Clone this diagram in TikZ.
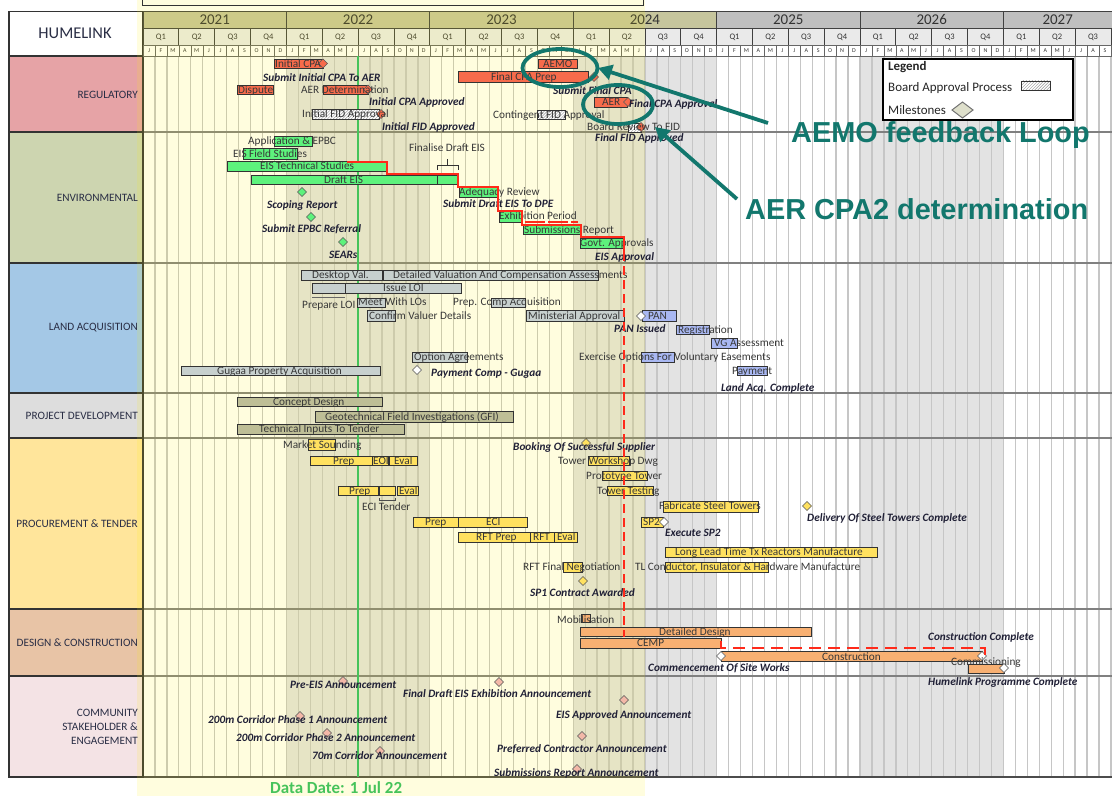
\documentclass[tikz,border=0pt]{standalone}
\usepackage{fontspec}
\setmainfont{Carlito}
\newfontfamily\annfont{Liberation Sans}
\usetikzlibrary{shapes.geometric,arrows.meta,patterns}
\definecolor{regc}{HTML}{F76B4B}
\definecolor{envc}{HTML}{5DF27C}
\definecolor{landc}{HTML}{C7D0CE}
\definecolor{landb}{HTML}{A9B8F2}
\definecolor{pdc}{HTML}{BEBE96}
\definecolor{procc}{HTML}{FFE15F}
\definecolor{desc}{HTML}{F8B072}
\definecolor{pinkc}{HTML}{F3B8A8}
\definecolor{teal2}{HTML}{12776D}
\definecolor{txt}{HTML}{383838}
\definecolor{navy}{HTML}{202036}
\definecolor{catc}{HTML}{2A2E45}
\definecolor{critc}{HTML}{FF2A1A}
\definecolor{gridc}{HTML}{C6C6C6}
\definecolor{greyyr}{HTML}{E3E3E3}
\definecolor{ddgreen}{HTML}{46C35A}
\definecolor{yrA}{HTML}{C6C59D}
\definecolor{yrB}{HTML}{BFBFBF}
\definecolor{qrow}{HTML}{EAEAEA}
\definecolor{catReg}{HTML}{E6A3A6}
\definecolor{catEnv}{HTML}{CDD5B0}
\definecolor{catLand}{HTML}{A4C8E6}
\definecolor{catPD}{HTML}{DDDDDD}
\definecolor{catProc}{HTML}{FFE59B}
\definecolor{catDes}{HTML}{E8C4A6}
\definecolor{catCom}{HTML}{F4E3E5}
\definecolor{legd}{HTML}{DEDFCB}
\tikzset{
  lbl/.style={anchor=base west, inner sep=0pt, text=txt, font=\fontsize{11.3}{12}\selectfont},
  bilbl/.style={anchor=base west, inner sep=0pt, text=navy, font=\fontsize{11.3}{12}\selectfont\bfseries\itshape},
  barl/.style={draw=black!80, line width=0.9pt},
  gridl/.style={draw=gridc, line width=1.3pt},
  hdr/.style={draw=black!75, line width=0.8pt},
  hdrthin/.style={draw=black!60, line width=0.5pt},
  sepl/.style={draw=black!50, line width=1.1pt},
  catbox/.style={draw=black!80, line width=1.2pt},
  cattxt/.style={anchor=east, inner sep=0pt, text=catc, align=right, font=\fontsize{11.3}{14}\selectfont},
  crit/.style={draw=critc, line width=1.8pt},
  annell/.style={draw=teal2, line width=3.8pt, ellipse, inner sep=0pt},
  annarrow/.style={draw=teal2, line width=3.8pt, -{Triangle[length=14bp,width=15bp]}},
  anntxt/.style={anchor=west, inner sep=0pt, text=teal2, font=\annfont\fontsize{29}{30}\selectfont\bfseries},
  legtxt/.style={anchor=west, inner sep=0pt, text=black!85, font=\fontsize{13}{14}\selectfont},
}
\newcounter{nd}
\newcommand\glbl[3]{\stepcounter{nd}\node[lbl] (n\arabic{nd}) at (#1,#2+3.8) {#3};}
\newcommand\gbi[3]{\stepcounter{nd}\node[bilbl] (n\arabic{nd}) at (#1,#2+3.8) {#3};}
\newcommand\gbar[5]{\draw[barl,fill=#5] (#1,#3) rectangle (#2,#4);}
\newcommand\hatchbar[4]{\fill[white] (#1,#3) rectangle (#2,#4);
  \fill[pattern=north east lines, pattern color=black!40] (#1,#3) rectangle (#2,#4);
  \draw[barl] (#1,#3) rectangle (#2,#4);}
\newcommand\mstone[3]{\draw[fill=#3, draw=black!65, line width=0.6pt] (#1-4.5,#2) -- (#1,#2-4.5) -- (#1+4.5,#2) -- (#1,#2+4.5) -- cycle;}
\def\mlist{J,F,M,A,M,J,J,A,S,O,N,D,J,F,M,A,M,J,J,A,S,O,N,D,J,F,M,A,M,J,J,A,S,O,N,D,J,F,M,A,M,J,J,A,S,O,N,D,J,F,M,A,M,J,J,A,S,O,N,D,J,F,M,A,M,J,J,A,S,O,N,D,J,F,M,A,M,J,J,A,S}
\begin{document}
\begin{tikzpicture}[x=1bp,y=-1bp]
\useasboundingbox (0,0) rectangle (1112,796);
\fill[white] (0,0) rectangle (1112,796);
% grey years
\fill[greyyr] (286.4,56) rectangle (429.8,777);
\fill[greyyr] (573.2,56) rectangle (716.6,777);
\fill[greyyr] (860,56) rectangle (1003.4,777);
% grid
\foreach \i in {0,...,81}{\draw[gridl] ({143+\i*11.95},56) -- ({143+\i*11.95},777);}
% separators
\foreach \yy in {132,263,393,438,609,676}{\draw[sepl] (143,\yy) -- (1112,\yy);}
\draw[draw=black!70, line width=1.2pt] (143,777) -- (1112,777);
% category column
\draw[catbox, fill=catReg] (9,56) rectangle (143,132);
\draw[catbox, fill=catEnv] (9,132) rectangle (143,263);
\draw[catbox, fill=catLand] (9,263) rectangle (143,393);
\draw[catbox, fill=catPD] (9,393) rectangle (143,438);
\draw[catbox, fill=catProc] (9,438) rectangle (143,609);
\draw[catbox, fill=catDes] (9,609) rectangle (143,676);
\draw[catbox, fill=catCom] (9,676) rectangle (143,777);
% header
\draw[catbox, fill=white] (9,11.5) rectangle (143,56);
\node[inner sep=0pt, text=catc, font=\fontsize{16.5}{18}\selectfont] (hume) at (75,33) {HUMELINK};
\foreach \yr in {0,...,6}{
  \pgfmathsetmacro\xa{143+\yr*143.4}
  \pgfmathsetmacro\xb{min(\xa+143.4,1112)}
  \pgfmathsetmacro\xc{(\xa+\xb)/2}
  \pgfmathtruncatemacro\yv{2021+\yr}
  \ifnum\yr<4 \def\yc{yrA}\else\def\yc{yrB}\fi
  \draw[hdr, fill=\yc] (\xa,11.5) rectangle (\xb,28.5);
  \node[inner sep=0pt, text=black!80, font=\fontsize{15}{16}\selectfont] (yr\yr) at (\xc,20) {\yv};
}
\foreach \q in {0,...,26}{
  \pgfmathsetmacro\xa{143+\q*35.85}
  \pgfmathsetmacro\xb{min(\xa+35.85,1112)}
  \pgfmathsetmacro\xc{(\xa+\xb)/2}
  \pgfmathtruncatemacro\qn{mod(\q,4)+1}
  \draw[hdr, fill=qrow] (\xa,28.5) rectangle (\xb,45);
  \node[inner sep=0pt, text=black!80, font=\fontsize{8.5}{9}\selectfont] (q\q) at (\xc,37) {Q\qn};
}
\foreach \mo [count=\k from 0] in \mlist {
  \pgfmathsetmacro\xa{143+\k*11.95}
  \draw[hdrthin, fill=white] (\xa,45) rectangle (\xa+11.95,56);
  \node[inner sep=0pt, text=black!80, font=\fontsize{6}{7}\selectfont] (m\k) at (\xa+5.975,50.5) {\mo};
}
% yellow overlay
\fill[yellow, opacity=0.13] (137,0) rectangle (645,796);
% category labels
\node[cattxt] (cReg) at (138,94.5) {REGULATORY};
\node[cattxt] (cEnv) at (138,197.5) {ENVIRONMENTAL};
\node[cattxt] (cLand) at (138,328) {LAND ACQUISITION};
\node[cattxt] (cPD) at (138,415.5) {PROJECT DEVELOPMENT};
\node[cattxt] (cProc) at (138,523.5) {PROCUREMENT \& TENDER};
\node[cattxt] (cDes) at (138,642.5) {DESIGN \& CONSTRUCTION};
\node[cattxt] (cCom) at (138,727) {COMMUNITY\\STAKEHOLDER \&\\ENGAGEMENT};
% data date line and top frame
\draw[ddgreen, line width=1.5pt] (358,56) -- (358,777);
\draw[black!80, line width=1pt] (142,0) -- (142,5) -- (643,5) -- (643,0);

% ---------- REGULATORY
\gbar{274}{323}{59}{68}{regc}
\gbar{237}{273}{85}{94}{regc}
\gbar{323}{368}{85}{94}{regc}
\hatchbar{312}{379}{109}{119}
\gbar{538}{577}{59}{68}{regc}
\gbar{458}{588}{71}{82}{regc}
\gbar{594}{627}{97}{107}{regc}
\hatchbar{537}{565}{110}{119}
\hatchbar{628}{641}{123}{132}
\mstone{323}{63.5}{regc}
\mstone{368}{89.5}{regc}
\mstone{381}{114}{regc}
\mstone{594}{77}{regc}
\mstone{628}{102}{regc}
\mstone{641}{127}{regc}
\glbl{275}{63.5}{Initial CPA}
\gbi{263}{78}{Submit Initial CPA To AER}
\glbl{238}{89.5}{Dispute}
\glbl{301}{89.5}{AER Determination}
\gbi{369}{102}{Initial CPA Approved}
\glbl{302}{114}{Initial FID Approval}
\gbi{382}{127}{Initial FID Approved}
\glbl{543}{63.5}{AEMO}
\glbl{491}{76.5}{Final CPA Prep}
\gbi{553}{91}{Submit Final CPA}
\glbl{602}{102}{AER}
\gbi{629}{104}{Final CPA Approval}
\glbl{493}{115}{Contingent FID Approval}
\glbl{587}{127}{Board Review To FID}
\gbi{595}{138}{Final FID Approved}

% ---------- ENVIRONMENTAL
\gbar{274}{312}{136}{146}{envc}
\gbar{243}{297}{148}{159}{envc}
\gbar{227}{387}{161}{171}{envc}
\gbar{251}{437}{175}{184}{envc}
\gbar{437}{458}{175}{184}{envc}
\gbar{459}{498}{187}{197}{envc}
\gbar{499}{522}{211}{222}{envc}
\gbar{523}{581}{225}{234}{envc}
\gbar{580}{624}{238}{248}{envc}
\mstone{302}{192}{envc}
\mstone{311}{217}{envc}
\mstone{343}{242}{envc}
\draw[black!80, line width=0.8pt] (437,170) -- (437,165) -- (458,165) -- (458,170);
\draw[black!80, line width=0.8pt] (447.5,165) -- (447.5,159);
\glbl{248}{140.5}{Application \& EPBC}
\glbl{233}{154}{EIS Field Studies}
\glbl{260}{166}{EIS Technical Studies}
\glbl{324}{179.5}{Draft EIS}
\glbl{409}{148}{Finalise Draft EIS}
\gbi{267}{204.5}{Scoping Report}
\gbi{262}{229}{Submit EPBC Referral}
\gbi{329}{255}{SEARs}
\glbl{459}{192}{Adequacy Review}
\gbi{443}{204}{Submit Draft EIS To DPE}
\glbl{499}{216}{Exhibition Period}
\glbl{524}{230}{Submissions Report}
\glbl{580}{243}{Govt. Approvals}
\gbi{595}{257}{EIS Approval}

% ---------- LAND ACQUISITION
\gbar{301}{382}{270}{280}{landc}
\gbar{383}{598}{270}{280}{landc}
\gbar{312}{345}{283}{293}{landc}
\gbar{345}{461}{283}{293}{landc}
\draw[black!60, line width=0.8pt] (312,297) -- (345,297);
\gbar{357}{385}{298}{307}{landc}
\gbar{367}{395}{310}{321}{landc}
\gbar{491}{525}{298}{307}{landc}
\gbar{526}{624}{310}{321}{landc}
\gbar{642}{676}{310}{321}{landb}
\gbar{676}{709}{325}{334}{landb}
\gbar{711}{737}{338}{348}{landb}
\gbar{412}{467}{352}{362}{landc}
\gbar{641}{674}{352}{362}{landb}
\gbar{181}{380}{366}{375}{landc}
\gbar{737}{767}{366}{375}{landb}
\mstone{641}{316}{white}
\mstone{417}{370}{white}
\glbl{312}{275}{Desktop Val.}
\glbl{393}{275}{Detailed Valuation And Compensation Assessments}
\glbl{383}{288}{Issue LOI}
\glbl{302}{305}{Prepare LOI}
\glbl{358}{302}{Meet With LOs}
\glbl{369}{315.5}{Confirm Valuer Details}
\glbl{453}{302}{Prep. Comp Acquisition}
\glbl{528}{315.5}{Ministerial Approval}
\glbl{648}{316}{PAN}
\gbi{614}{329}{PAN Issued}
\glbl{678}{329.5}{Registration}
\glbl{714}{343}{VG Assessment}
\glbl{414}{356.5}{Option Agreements}
\glbl{579}{356.5}{Exercise Options For Voluntary Easements}
\gbi{431}{373}{Payment Comp - Gugaa}
\glbl{217}{370.5}{Gugaa Property Acquisition}
\glbl{732}{370.5}{Payment}
\gbi{721}{388}{Land Acq. Complete}

% ---------- PROJECT DEVELOPMENT
\gbar{237}{382}{397}{406}{pdc}
\gbar{315}{513}{411}{422}{pdc}
\gbar{237}{404}{424}{434}{pdc}
\glbl{273}{401.5}{Concept Design}
\glbl{325}{416.5}{Geotechnical Field Investigations (GFI)}
\glbl{259}{429}{Technical Inputs To Tender}

% ---------- PROCUREMENT
\gbar{308}{335}{439}{450}{procc}
\gbar{310}{372}{456}{465}{procc}
\gbar{372}{388}{456}{465}{procc}
\gbar{389}{417}{456}{465}{procc}
\gbar{588}{629}{456}{465}{procc}
\gbar{602}{647}{471}{480}{procc}
\gbar{607}{653}{486}{495}{procc}
\gbar{338}{378}{486}{495}{procc}
\gbar{379}{395}{486}{495}{procc}
\gbar{397}{418}{486}{495}{procc}
\draw[black!70, line width=0.8pt] (379,498) -- (379,500.5) -- (395,500.5) -- (395,498);
\gbar{413}{458}{517}{527}{procc}
\gbar{458}{527}{517}{527}{procc}
\gbar{458}{530}{532}{542}{procc}
\gbar{530}{554}{532}{542}{procc}
\gbar{554}{577}{532}{542}{procc}
\gbar{663}{758}{501}{512}{procc}
\gbar{641}{663}{517}{527}{procc}
\gbar{665}{877}{547}{557}{procc}
\gbar{665}{768}{562}{572}{procc}
\gbar{563}{582}{562}{572}{procc}
\draw[black!70, line width=0.7pt] (586,438) -- (586,443);
\mstone{586}{443}{procc}
\mstone{807}{506}{procc}
\mstone{664}{522}{white}
\mstone{583}{581}{procc}
\glbl{283}{445}{Market Sounding}
\glbl{333}{460.5}{Prep}
\glbl{373}{460.5}{EOI}
\glbl{394}{460.5}{Eval}
\gbi{513}{447}{Booking Of Successful Supplier}
\glbl{558}{460.5}{Tower Workshop Dwg}
\glbl{586}{475.5}{Prototype Tower}
\glbl{597}{490.5}{Tower Testing}
\glbl{349}{491}{Prep}
\glbl{399}{491}{Eval}
\glbl{362}{507}{ECI Tender}
\glbl{425}{521.5}{Prep}
\glbl{486}{522}{ECI}
\glbl{476}{537}{RFT Prep}
\glbl{533}{537}{RFT}
\glbl{557}{537}{Eval}
\glbl{659}{506}{Fabricate Steel Towers}
\gbi{807}{518}{Delivery Of Steel Towers Complete}
\glbl{643}{522}{SP2}
\gbi{665}{533}{Execute SP2}
\glbl{675}{552}{Long Lead Time Tx Reactors Manufacture}
\glbl{635}{567}{TL Conductor, Insulator \& Hardware Manufacture}
\glbl{523}{567}{RFT Final Negotiation}
\gbi{530}{593}{SP1 Contract Awarded}

% ---------- DESIGN & CONSTRUCTION
\gbar{581}{590}{614}{622}{desc}
\gbar{580}{811}{627}{636}{desc}
\gbar{580}{721}{638}{648}{desc}
\gbar{721}{982}{651}{661}{desc}
\gbar{968}{1004}{664}{673}{desc}
\mstone{721}{656}{white}
\mstone{982}{656}{white}
\mstone{1004}{668}{white}
\glbl{557}{620}{Mobilisation}
\glbl{659}{631.5}{Detailed Design}
\glbl{637}{643}{CEMP}
\glbl{822}{656.5}{Construction}
\gbi{648}{668}{Commencement Of Site Works}
\gbi{928}{637}{Construction Complete}
\glbl{951}{662}{Commissioning}
\gbi{928}{682}{Humelink Programme Complete}

% ---------- COMMUNITY
\mstone{343}{681}{pinkc}
\gbi{290}{685}{Pre-EIS Announcement}
\mstone{499}{682}{pinkc}
\gbi{403}{694}{Final Draft EIS Exhibition Announcement}
\mstone{300}{716}{pinkc}
\gbi{208}{720}{200m Corridor Phase 1 Announcement}
\mstone{624}{700}{pinkc}
\gbi{556}{715}{EIS Approved Announcement}
\mstone{327}{733}{pinkc}
\gbi{236}{738}{200m Corridor Phase 2 Announcement}
\mstone{582}{736}{pinkc}
\gbi{497}{749}{Preferred Contractor Announcement}
\mstone{380}{751}{pinkc}
\gbi{312}{756}{70m Corridor Announcement}
\mstone{577}{769}{pinkc}
\gbi{494}{773}{Submissions Report Announcement}

% ---------- critical path
\draw[crit, line join=miter] (347,162) -- (387,162) -- (387,174) -- (458,174) -- (458,187) -- (498,187) -- (498,211) -- (522,211) -- (522,225) -- (581,225) -- (581,237) -- (624,237) -- (624,252);
\draw[crit, line width=1.5pt, dash pattern=on 20bp off 3bp] (525,222) -- (578,222);
\draw[crit, line width=2pt, dash pattern=on 9bp off 5bp] (624,252) -- (624,637);
\draw[crit, line width=2pt, dash pattern=on 12bp off 7bp] (721,641) -- (721,648) -- (985,648) -- (985,657);

% ---------- legend
\draw[fill=white, draw=black, line width=1.2pt] (883,59) rectangle (1073,120);
\node[legtxt, font=\fontsize{13}{14}\selectfont\bfseries] (lg1) at (888,67) {Legend};
\node[legtxt] (lg2) at (888,88) {Board Approval Process};
\hatchbar{1021}{1050}{81}{90}
\node[legtxt] (lg3) at (888,110) {Milestones};
\draw[fill=legd, draw=black!55, line width=1pt] (952,110) -- (962.5,102) -- (973,110) -- (962.5,118) -- cycle;

% ---------- annotations
\node[annell, minimum width=75bp, minimum height=38bp] (e1) at (560,68) {};
\node[annell, minimum width=70bp, minimum height=39bp] (e2) at (618,104.5) {};
\coordinate (a1) at (768,123);
\coordinate (t1) at (598,68);
\coordinate (a2) at (737,199);
\coordinate (t2) at (655,127);
\draw[annarrow] (a1) -- (t1);
\draw[annarrow] (a2) -- (t2);
\node[anntxt] (aemo) at (791,135) {AEMO feedback Loop};
\node[anntxt] (aer) at (745,209.5) {AER CPA2 determination};

% ---------- data date
\node[anchor=west, inner sep=0pt, text=ddgreen, font=\fontsize{17}{18}\selectfont\bfseries] (dd) at (270,787.5) {Data Date: 1 Jul 22};
\end{tikzpicture}
\end{document}
